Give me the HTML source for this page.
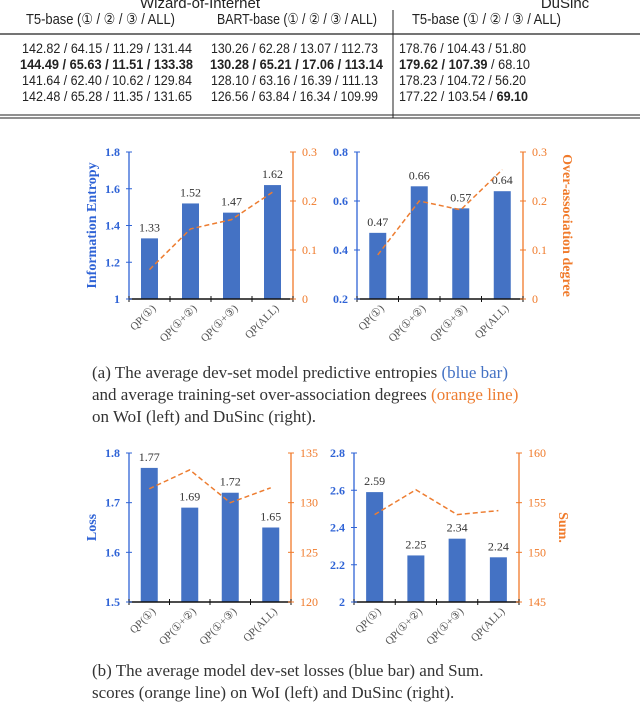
<!DOCTYPE html>
<html><head><meta charset="utf-8">
<style>
body{margin:0;width:640px;height:705px;background:#fff;overflow:hidden}
svg{display:block}
.tb{font-family:"Liberation Sans","DejaVu Sans",sans-serif;font-size:15px;fill:#222}
.rw{font-size:14px}
.cap{font-family:"Liberation Serif",serif;font-size:17px;fill:#333}
</style></head>
<body>
<svg id="s" width="640" height="705">
<g class="tb">
<text x="200" y="8" text-anchor="middle">Wizard-of-Internet</text>
<text x="565" y="8" text-anchor="middle">DuSinc</text>
<text x="26" y="24" textLength="149" lengthAdjust="spacingAndGlyphs">T5-base (① / ② / ③ / ALL)</text>
<text x="217" y="24" textLength="160" lengthAdjust="spacingAndGlyphs">BART-base (① / ② / ③ / ALL)</text>
<text x="412" y="24" textLength="149" lengthAdjust="spacingAndGlyphs">T5-base (① / ② / ③ / ALL)</text>
<line x1="0" y1="34" x2="640" y2="34" stroke="#222" stroke-width="1.2"/>
<line x1="393" y1="10" x2="393" y2="118" stroke="#222"/>
<line x1="0" y1="115" x2="640" y2="115" stroke="#222"/>
<line x1="0" y1="118" x2="640" y2="118" stroke="#222"/>
<g class="rw">
<text x="22" y="53" textLength="170" lengthAdjust="spacingAndGlyphs">142.82 / 64.15 / 11.29 / 131.44</text>
<text x="211" y="53" textLength="167" lengthAdjust="spacingAndGlyphs">130.26 / 62.28 / 13.07 / 112.73</text>
<text x="399" y="53" textLength="127" lengthAdjust="spacingAndGlyphs">178.76 / 104.43 / 51.80</text>
<text x="20" y="69" textLength="173" lengthAdjust="spacingAndGlyphs" font-weight="bold">144.49 / 65.63 / 11.51 / 133.38</text>
<text x="210" y="69" textLength="173" lengthAdjust="spacingAndGlyphs" font-weight="bold">130.28 / 65.21 / 17.06 / 113.14</text>
<text x="399" y="69" textLength="131" lengthAdjust="spacingAndGlyphs"><tspan font-weight="bold">179.62 / 107.39</tspan> / 68.10</text>
<text x="22" y="85" textLength="170" lengthAdjust="spacingAndGlyphs">141.64 / 62.40 / 10.62 / 129.84</text>
<text x="211" y="85" textLength="167" lengthAdjust="spacingAndGlyphs">128.10 / 63.16 / 16.39 / 111.13</text>
<text x="399" y="85" textLength="127" lengthAdjust="spacingAndGlyphs">178.23 / 104.72 / 56.20</text>
<text x="22" y="101" textLength="170" lengthAdjust="spacingAndGlyphs">142.48 / 65.28 / 11.35 / 131.65</text>
<text x="211" y="101" textLength="167" lengthAdjust="spacingAndGlyphs">126.56 / 63.84 / 16.34 / 109.99</text>
<text x="399" y="101" textLength="129" lengthAdjust="spacingAndGlyphs">177.22 / 103.54 / <tspan font-weight="bold">69.10</tspan></text>
</g>
</g>
<g class="cap">
<text x="92" y="378">(a) The average dev-set model predictive entropies <tspan fill="#4472c4">(blue bar)</tspan></text>
<text x="92" y="400">and average training-set over-association degrees <tspan fill="#ed7d31">(orange line)</tspan></text>
<text x="92" y="422">on WoI (left) and DuSinc (right).</text>
</g>
<g class="cap">
<text x="92" y="676">(b) The average model dev-set losses (blue bar) and Sum.</text>
<text x="92" y="698">scores (orange line) on WoI (left) and DuSinc (right).</text>
</g>
</svg>
<script>
const categories=["QP(①)","QP(①+②)","QP(①+③)","QP(ALL)"];
const entropyWoI=[1.33,1.52,1.47,1.62];
const overAssocWoI=[0.06,0.143,0.162,0.218];
const entropyDu=[0.47,0.66,0.57,0.64];
const overAssocDu=[0.09,0.2,0.182,0.264];
const lossWoI=[1.77,1.69,1.72,1.65];
const sumWoI=[131.4,133.3,130.0,131.5];
const lossDu=[2.59,2.25,2.34,2.24];
const sumDu=[153.8,156.3,153.8,154.2];
const ticksL1=[1,1.2,1.4,1.6,1.8], ticksR1=[0,0.1,0.2,0.3];
const ticksL2=[0.2,0.4,0.6,0.8], ticksR2=[0,0.1,0.2,0.3];
const ticksL3=[1.5,1.6,1.7,1.8], ticksR3=[120,125,130,135];
const ticksL4=[2,2.2,2.4,2.6,2.8], ticksR4=[145,150,155,160];
const NS="http://www.w3.org/2000/svg";
const svg=document.getElementById('s');
function el(t,a,p){const e=document.createElementNS(NS,t);for(const k in a)e.setAttribute(k,a[k]);(p||svg).appendChild(e);return e;}
const BLUE="#4472c4",OR="#ed7d31",AX_B="#2f63d6",AX_O="#f07a2a";
function chart(name,x0,x1,top,bot,bars,line,tl,tr,titleL,titleR,fmtL,fmtR){
  const g=el('g',{});
  
  
  const lmin=tl[0],lmax=tl[tl.length-1],rmin=tr[0],rmax=tr[tr.length-1];
  const yL=v=>bot-(v-lmin)/(lmax-lmin)*(bot-top);
  const yR=v=>bot-(v-rmin)/(rmax-rmin)*(bot-top);
  const step=(x1-x0)/categories.length;
  const xc=i=>x0+step*(i+0.5);
  bars.forEach((v,i)=>{
    const r=el('rect',{x:xc(i)-8.5,y:yL(v),width:17,height:bot-yL(v),fill:BLUE},g);
    
    
    const t=el('text',{x:xc(i),y:yL(v)-7,'text-anchor':'middle','font-family':'Liberation Serif,serif','font-size':'12',fill:'#333'},g);
    t.textContent=v.toFixed(2);
    
    
  });
  const pl=el('polyline',{points:line.map((v,i)=>xc(i)+','+yR(v)).join(' '),fill:'none',stroke:OR,'stroke-width':1.5,'stroke-dasharray':'5,3'},g);
  
  
  el('line',{x1:x0,y1:top,x2:x0,y2:bot,stroke:AX_B,'stroke-width':1.3},g);
  el('line',{x1:x1,y1:top,x2:x1,y2:bot,stroke:AX_O,'stroke-width':1.3},g);
  el('line',{x1:x0,y1:bot,x2:x1,y2:bot,stroke:'#111','stroke-width':1.5},g);
  for(let i=0;i<=categories.length;i++){el('line',{x1:x0+step*i,y1:bot-3,x2:x0+step*i,y2:bot+3,stroke:'#111'},g);}
  tl.forEach(v=>{el('line',{x1:x0-3,y1:yL(v),x2:x0+3,y2:yL(v),stroke:AX_B},g);
    const t=el('text',{x:x0-9,y:yL(v)+4,'text-anchor':'end','font-family':'Liberation Serif,serif','font-size':'12','font-weight':'bold',fill:AX_B},g);t.textContent=fmtL(v);
    
    });
  tr.forEach(v=>{el('line',{x1:x1-3,y1:yR(v),x2:x1+3,y2:yR(v),stroke:AX_O},g);
    const t=el('text',{x:x1+9,y:yR(v)+4,'font-family':'Liberation Serif,serif','font-size':'12',fill:AX_O},g);t.textContent=fmtR(v);
    
    });
  categories.forEach((c,i)=>{
    const t=el('text',{transform:`translate(${xc(i)+7},${bot+10}) rotate(-45)`,'text-anchor':'end','font-family':'Liberation Serif,serif','font-size':'11',fill:'#555'},g);
    t.textContent=c;
    
    
  });
  if(titleL){const t=el('text',{transform:`translate(${x0-33},${(top+bot)/2}) rotate(-90)`,'text-anchor':'middle','font-family':'Liberation Serif,serif','font-size':'14','font-weight':'bold',fill:AX_B},g);t.textContent=titleL;
    
    }
  if(titleR){const t=el('text',{transform:`translate(${x1+40},${(top+bot)/2}) rotate(90)`,'text-anchor':'middle','font-family':'Liberation Serif,serif','font-size':'14','font-weight':'bold',fill:AX_O},g);t.textContent=titleR;
    
    }
}
const f1=v=>String(+v.toFixed(1));
chart('entropy-woi-chart',129,293,152,299,entropyWoI,overAssocWoI,ticksL1,ticksR1,'Information Entropy',null,f1,f1);
chart('entropy-dusinc-chart',357,523,152,299,entropyDu,overAssocDu,ticksL2,ticksR2,null,'Over-association degree',f1,f1);
chart('loss-woi-chart',129,291,453,602,lossWoI,sumWoI,ticksL3,ticksR3,'Loss',null,f1,v=>String(v));
chart('loss-dusinc-chart',354,519,453,602,lossDu,sumDu,ticksL4,ticksR4,null,'Sum.',f1,v=>String(v));
</script>
</body></html>
